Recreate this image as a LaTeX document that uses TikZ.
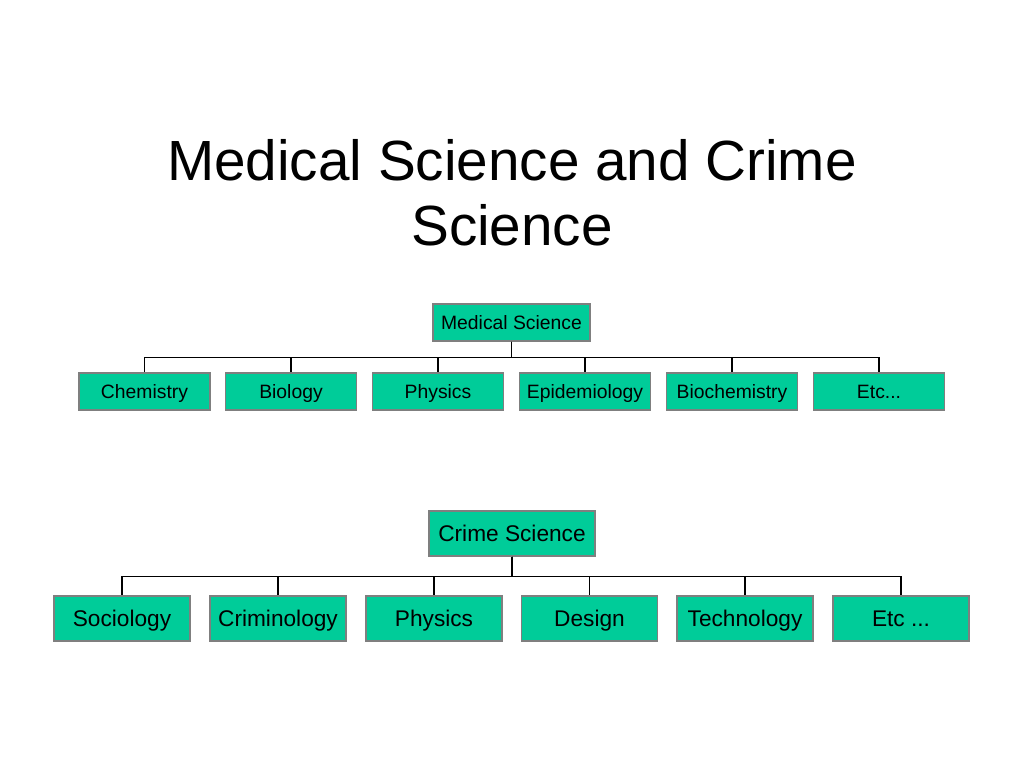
\documentclass[tikz,border=0pt]{standalone}
\usepackage{fontspec}
\setmainfont{Liberation Sans}
\definecolor{boxfill}{HTML}{00CC99}
\definecolor{boxline}{HTML}{7F7F7F}
\begin{document}
\begin{tikzpicture}[x=0.75pt,y=-0.75pt,
  box/.style={draw=boxline,fill=boxfill,line width=0.8pt,inner sep=0pt,text=black,text depth=0pt},
  topbox/.style={box,minimum width=131*0.75pt,minimum height=37*0.75pt,text height=10.4pt,font=\fontsize{14.5pt}{17pt}\selectfont},
  botbox/.style={box,minimum width=136*0.75pt,minimum height=45*0.75pt,text height=12.2pt,font=\fontsize{17pt}{20pt}\selectfont},
  link/.style={draw=black,line width=0.9pt},
  titletext/.style={font=\fontsize{42.5pt}{49pt}\selectfont,anchor=base,inner sep=0pt}]
\useasboundingbox[fill=white] (0,0) rectangle (1024,768);
% title
\node[titletext] (t1) at (512,180) {Medical Science and Crime};
\node[titletext] (t2) at (512,245) {Science};
% top tree
\node[topbox,minimum width=157*0.75pt] (ms) at (511.5,322.5) {Medical Science};
\node[topbox] (m1) at (144.5,391.5) {Chemistry};
\node[topbox] (m2) at (291,391.5) {Biology};
\node[topbox] (m3) at (438,391.5) {Physics};
\node[topbox] (m4) at (585,391.5) {Epidemiology};
\node[topbox] (m5) at (732,391.5) {Biochemistry};
\node[topbox] (m6) at (879,391.5) {Etc...};
\foreach \c in {m1,m2,m3,m4,m5,m6}
  \draw[link] (ms.south) -- ++(0,16) -| (\c.north);
% bottom tree
\node[botbox,minimum width=166*0.75pt] (cs) at (512,533.5) {Crime Science};
\node[botbox] (c1) at (122,618.5) {Sociology};
\node[botbox] (c2) at (278,618.5) {Criminology};
\node[botbox] (c3) at (434,618.5) {Physics};
\node[botbox] (c4) at (589.5,618.5) {Design};
\node[botbox] (c5) at (745,618.5) {Technology};
\node[botbox] (c6) at (901,618.5) {Etc ...};
\foreach \c in {c1,c2,c3,c4,c5,c6}
  \draw[link] (cs.south) -- ++(0,20) -| (\c.north);
\end{tikzpicture}
\end{document}
